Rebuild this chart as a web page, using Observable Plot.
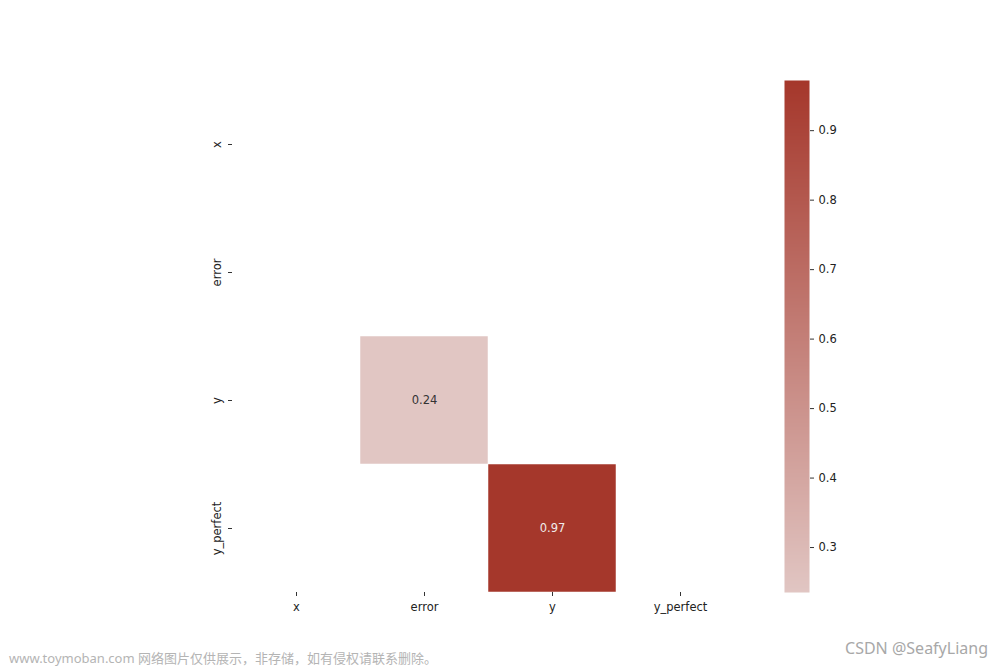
<!DOCTYPE html>
<html>
<head>
<meta charset="utf-8">
<script src="https://cdn.jsdelivr.net/npm/d3@7"></script>
<script src="https://cdn.jsdelivr.net/npm/@observablehq/plot@0.6"></script>
<style>
  body { margin: 0; background: #fff; }
  #wrap { position: relative; width: 1000px; height: 666px; overflow: hidden; font-family: "DejaVu Sans", sans-serif; }
  #main { position: absolute; left: 0; top: 0; }
  #cbar { position: absolute; left: 770px; top: 0; }
  .wm1 { position: absolute; left: 9px; top: 648px; font: 13px "Noto Sans", "Noto Sans CJK SC", sans-serif; color: #b4b4b4; white-space: nowrap; }
  .wm2 { position: absolute; right: 12px; top: 637px; font: 16px "Noto Sans", sans-serif; color: #a8a8a8; white-space: nowrap; }
</style>
</head>
<body>
<div id="wrap">
  <div id="main"></div>
  <div id="cbar"></div>
  <div class="wm1">www.toymoban.com 网络图片仅供展示，非存储，如有侵权请联系删除。</div>
  <div class="wm2">CSDN @SeafyLiang</div>
</div>
<script>
// Data
const categories = ["x", "error", "y", "y_perfect"];
const cellCols = ["error", "y"];
const cellRows = ["y", "y_perfect"];
const cellValues = [0.2353, 0.9722];
const colorbarTicks = [0.3, 0.4, 0.5, 0.6, 0.7, 0.8, 0.9];

const cells = cellValues.map((v, i) => ({col: cellCols[i], row: cellRows[i], value: v}));
const vmin = d3.min(cellValues), vmax = d3.max(cellValues);
const colorOpts = {type: "linear", domain: [vmin, vmax], range: ["#e1c6c3", "#a5372b"], interpolate: "rgb"};
const font = "DejaVu Sans, sans-serif";

const main = Plot.plot({
  width: 780,
  height: 640,
  marginLeft: 232,
  marginRight: 36,
  marginTop: 79,
  marginBottom: 48,
  style: {fontFamily: font, fontSize: "11.5px", color: "#222", background: "transparent"},
  x: {type: "band", domain: categories, padding: 0, label: null},
  y: {type: "band", domain: categories, padding: 0, label: null},
  color: colorOpts,
  marks: [
    Plot.cell(cells, {x: "col", y: "row", fill: "value", stroke: "#fff", strokeWidth: 0.5, inset: 0}),
    Plot.text(cells, {x: "col", y: "row", text: d => d.value.toFixed(2), fill: d => d.value > 0.6 ? "#f0ecec" : "#333", fontSize: 11.5}),
    Plot.axisX({tickSize: 4, tickPadding: 6, label: null, stroke: "#333"}),
    Plot.axisY({tickSize: 4, tickFormat: () => "", label: null, stroke: "#333"}),
    Plot.text(categories, {y: d => d, text: d => d, frameAnchor: "left", textAnchor: "middle", dx: -15, rotate: -90, fill: "#222", fontSize: 11.5})
  ]
});
document.getElementById("main").appendChild(main);

const cbar = Plot.plot({
  width: 100,
  height: 666,
  marginLeft: 14,
  marginRight: 61,
  marginTop: 80,
  marginBottom: 74,
  style: {fontFamily: font, fontSize: "11.5px", color: "#222", background: "transparent"},
  x: {domain: [0, 1], axis: null},
  y: {domain: [vmin, vmax], axis: null},
  color: colorOpts,
  marks: [
    Plot.raster({fill: (x, y) => y, x1: 0, x2: 1, y1: vmin, y2: vmax, width: 1, height: 512, imageRendering: "auto"}),
    Plot.axisY(colorbarTicks, {anchor: "right", tickSize: 4, tickPadding: 5, tickFormat: d => d.toFixed(1), label: null, stroke: "#333"})
  ]
});
document.getElementById("cbar").appendChild(cbar);
</script>
</body>
</html>
